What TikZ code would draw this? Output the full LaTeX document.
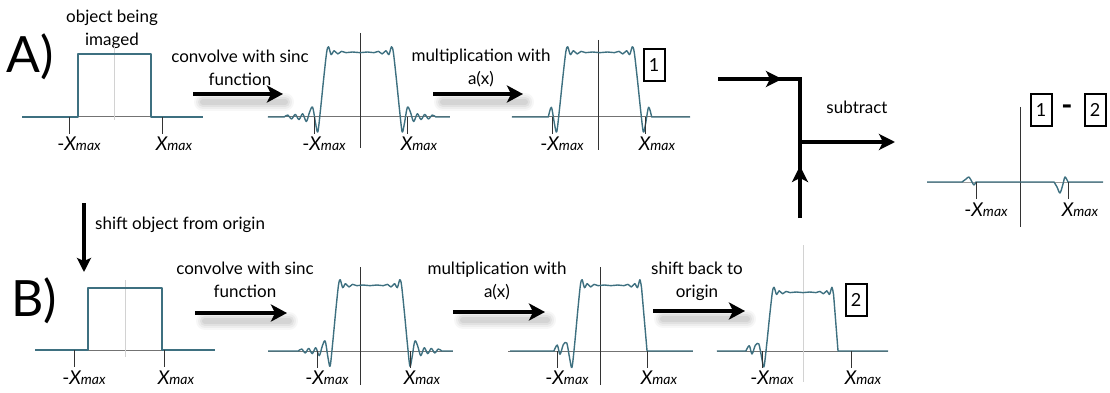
\documentclass[tikz,border=0pt]{standalone}
\usepackage{fontspec}
\setmainfont{Lato}
\usetikzlibrary{arrows.meta,calc}
\definecolor{curve}{RGB}{62,112,128}
\definecolor{axisgray}{RGB}{115,115,115}
\definecolor{faint}{RGB}{210,210,210}
\newcommand\xmaxlbl{{\fontsize{19}{19}\selectfont\itshape X}{\fontsize{14}{14}\selectfont\itshape max}}
\newcommand\mxmaxlbl{{\fontsize{19}{19}\selectfont -}\xmaxlbl}
\newcommand\arrowshade[2]{%
  \foreach \w/\o in {18/0.03,14/0.04,10/0.05,6/0.06}{%
    \draw[line width=\w, opacity=\o, line cap=round] ($(#1)+(10,8)$) -- ($(#2)+(2,8)$);}}
\tikzset{
  curveline/.style={draw=curve, line width=1.4pt, line join=round},
  axisline/.style={draw=axisgray, line width=1pt},
  originline/.style={draw=black!80, line width=0.8pt},
  faintorigin/.style={draw=faint, line width=1pt},
  tickline/.style={draw=black!80, line width=0.8pt},
  lbl/.style={font=\fontsize{17}{23}\selectfont, align=center, inner sep=0pt},
  xl/.style={inner sep=0pt},
  biglbl/.style={font=\fontsize{50}{50}\selectfont, inner sep=0pt},
  numbox/.style={draw=black, line width=2pt, minimum width=21pt, minimum height=32pt, inner sep=0pt, font=\fontsize{18}{18}\selectfont},
  bigarrow/.style={line width=4.5pt, -{Stealth[length=16pt,width=17pt,inset=4pt]}},
  subline/.style={line width=4.5pt},
  subarrow/.style={line width=4.5pt, -{Stealth[length=16pt,width=16pt,inset=4pt]}},
}
\begin{document}
\begin{tikzpicture}[x=1pt,y=-1pt]
\useasboundingbox (0,0) rectangle (1110,393);

% ---------- labels A) B)
\node[biglbl] (lA) at (30,57) {A)};
\node[biglbl] (lB) at (34,301) {B)};

% ---------- A1 : object
\node[lbl] (t0) at (112,29) {object being\\imaged};
\draw[axisline] (22,117) -- (203,117);
\draw[faintorigin] (114,47) -- (114,120);
\draw[curveline] (22,117) -- (78,117) -- (78,54) -- (151,54) -- (151,117) -- (203,117);
\draw[tickline] (69,117) -- (69,134);
\draw[tickline] (162,117) -- (162,134);
\node[xl] (a1l) at (79,144) {\mxmaxlbl};
\node[xl] (a1r) at (174,144) {\xmaxlbl};

% ---------- A arrow 1
\node[lbl] (ta1) at (240,68) {convolve with sinc\\function};
\coordinate (aa1s) at (193,94); \coordinate (aa1e) at (283,94);
\arrowshade{aa1s}{aa1e}
\draw[bigarrow] (aa1s) -- (aa1e);

% ---------- A2 : convolved
\draw[axisline] (268,117) -- (450,117);
\draw[originline] (360,33) -- (360,148);
\begin{scope}[shift={(360,117)},xscale=37,yscale=-65]
\draw[curveline] (-2.49,0) -- plot[smooth,tension=0.5] coordinates {
(-2.05,0) (-1.95,0.03) (-1.85,-0.03) (-1.75,0.04) (-1.65,-0.04) (-1.55,0.05) (-1.45,-0.07) (-1.36,0.08) (-1.28,0.15) (-1.2,-0.1) (-1.14,-0.23) (-1.07,0.1) (-0.98,0.6) (-0.9,1.0) (-0.85,1.08) (-0.78,0.96) (-0.7,1.02) (-0.6,0.97) (-0.5,1.01) (-0.38,0.99) (-0.2,1.0) (0,0.99)
(0.2,1.0) (0.38,0.99) (0.5,1.01) (0.6,0.97) (0.7,1.02) (0.78,0.96) (0.85,1.08) (0.9,1.0) (0.98,0.6) (1.07,0.1) (1.14,-0.23) (1.2,-0.1) (1.28,0.15) (1.36,0.08) (1.45,-0.07) (1.55,0.05) (1.65,-0.04) (1.75,0.04) (1.85,-0.03) (1.95,0.03) (2.05,0)} -- (2.43,0);
\end{scope}
\draw[tickline] (314,117) -- (314,134);
\draw[tickline] (407,117) -- (407,134);
\node[xl] (a2l) at (324,144) {\mxmaxlbl};
\node[xl] (a2r) at (419,144) {\xmaxlbl};

% ---------- A arrow 2
\node[lbl] (ta2) at (481,68) {multiplication with\\a(x)};
\coordinate (aa2s) at (433,94); \coordinate (aa2e) at (523,94);
\arrowshade{aa2s}{aa2e}
\draw[bigarrow] (aa2s) -- (aa2e);

% ---------- A3 : multiplied
\draw[axisline] (512,117) -- (690,117);
\draw[originline] (598,40) -- (598,150);
\begin{scope}[shift={(600,117)},xscale=38,yscale=-65]
\draw[curveline] (-2.32,0) -- plot[smooth,tension=0.5] coordinates {
(-1.36,0) (-1.28,0.15) (-1.2,-0.1) (-1.14,-0.23) (-1.07,0.1) (-0.98,0.6) (-0.9,1.0) (-0.85,1.08) (-0.78,0.96) (-0.7,1.02) (-0.6,0.97) (-0.5,1.01) (-0.38,0.99) (-0.2,1.0) (0,0.99)
(0.2,1.0) (0.38,0.99) (0.5,1.01) (0.6,0.97) (0.7,1.02) (0.78,0.96) (0.85,1.08) (0.9,1.0) (0.98,0.6) (1.07,0.1) (1.14,-0.23) (1.2,-0.1) (1.28,0.15) (1.36,0)} -- (2.37,0);
\end{scope}
\draw[tickline] (552,117) -- (552,134);
\draw[tickline] (645,117) -- (645,134);
\node[xl] (a3l) at (562,144) {\mxmaxlbl};
\node[xl] (a3r) at (657,144) {\xmaxlbl};
\node[numbox] (n1a) at (654,65) {1};

% ---------- subtract
\coordinate (s1) at (718,79);
\coordinate (s2) at (800,79);
\coordinate (s3) at (800,218);
\coordinate (sm) at (782,79);
\coordinate (su) at (800,166);
\coordinate (so1) at (800,142);
\coordinate (so2) at (895,142);
\draw[subline, line join=miter] (s1) -- (s2) -- (s3);
\draw[subarrow] (s1) -- (sm);
\draw[subarrow] (s3) -- (su);
\draw[subarrow] (so1) -- (so2);
\node[lbl] (tsub) at (857,107) {subtract};

% ---------- final difference
\draw[axisline, draw=axisgray!70] (927,182) -- (1103,182);
\draw[originline] (1020,107) -- (1020,227);
\draw[curveline] (927,182) -- (961,182) -- plot[smooth,tension=0.5] coordinates {(962,182) (966,179) (969,177) (972,182) (974,185) (976,182)} -- (1053,182) -- plot[smooth,tension=0.5] coordinates {(1054,182) (1057,187) (1060,193) (1063,184) (1065,177) (1068,182)} -- (1103,182);
\draw[tickline] (976,182) -- (976,199);
\draw[tickline] (1068,182) -- (1068,199);
\node[xl] (fl) at (986,210) {\mxmaxlbl};
\node[xl] (fr) at (1080,210) {\xmaxlbl};
\node[numbox] (n1f) at (1041,110) {1};
\node[inner sep=0pt, font=\fontsize{30}{30}\selectfont\bfseries] (dash) at (1067,110) {-};
\node[numbox] (n2f) at (1095,110) {2};

% ---------- shift arrow
\coordinate (sh1) at (84,203); \coordinate (sh2) at (84,272);
\draw[line width=4pt, -{Stealth[length=14pt,width=14pt,inset=3pt]}] (sh1) -- (sh2);
\node[lbl, anchor=west] (tsh) at (95,225) {shift object from origin};

% ---------- B1 : shifted object
\draw[axisline] (35,350) -- (215,350);
\draw[faintorigin] (125,280) -- (125,357);
\draw[curveline] (35,350) -- (88,350) -- (88,288) -- (162,288) -- (162,350) -- (215,350);
\draw[tickline] (74,350) -- (74,367);
\draw[tickline] (164,350) -- (164,367);
\node[xl] (b1l) at (84,378) {\mxmaxlbl};
\node[xl] (b1r) at (176,378) {\xmaxlbl};

% ---------- B arrow 1
\node[lbl] (tb1) at (245,280) {convolve with sinc\\function};
\coordinate (ba1s) at (195,313); \coordinate (ba1e) at (287,313);
\arrowshade{ba1s}{ba1e}
\draw[bigarrow] (ba1s) -- (ba1e);

% ---------- B2
\draw[axisline] (268,351) -- (453,351);
\draw[originline] (360,267) -- (360,385);
\begin{scope}[shift={(370,351)},xscale=35,yscale=-66]
\draw[curveline] (-2.91,0) -- plot[smooth,tension=0.5] coordinates {
(-2.05,0) (-1.95,0.03) (-1.85,-0.03) (-1.75,0.04) (-1.65,-0.04) (-1.55,0.05) (-1.45,-0.07) (-1.36,0.08) (-1.28,0.15) (-1.2,-0.1) (-1.14,-0.23) (-1.07,0.1) (-0.98,0.6) (-0.9,1.0) (-0.85,1.08) (-0.78,0.96) (-0.7,1.02) (-0.6,0.97) (-0.5,1.01) (-0.38,0.99) (-0.2,1.0) (0,0.99)
(0.2,1.0) (0.38,0.99) (0.5,1.01) (0.6,0.97) (0.7,1.02) (0.78,0.96) (0.85,1.08) (0.9,1.0) (0.98,0.6) (1.07,0.1) (1.14,-0.23) (1.2,-0.1) (1.28,0.15) (1.36,0.08) (1.45,-0.07) (1.55,0.05) (1.65,-0.04) (1.75,0.04) (1.85,-0.03) (1.95,0.03) (2.05,0)} -- (2.37,0);
\end{scope}
\draw[tickline] (317,351) -- (317,368);
\draw[tickline] (410,351) -- (410,368);
\node[xl] (b2l) at (327,378) {\mxmaxlbl};
\node[xl] (b2r) at (422,378) {\xmaxlbl};

% ---------- B arrow 2
\node[lbl] (tb2) at (497,281) {multiplication with\\a(x)};
\coordinate (ba2s) at (453,312); \coordinate (ba2e) at (545,312);
\arrowshade{ba2s}{ba2e}
\draw[bigarrow] (ba2s) -- (ba2e);

% ---------- B3
\draw[axisline] (508,351) -- (693,351);
\draw[originline] (600,267) -- (600,385);
\begin{scope}[shift={(611,351)},xscale=34,yscale=-66]
\draw[curveline] (-2.97,0) -- plot[smooth,tension=0.5] coordinates {
(-1.68,0) (-1.58,0.09) (-1.5,-0.05) (-1.4,0.1) (-1.3,0.12) (-1.22,-0.1) (-1.15,-0.25) (-1.07,0.1) (-0.98,0.6) (-0.9,1.0) (-0.85,1.08) (-0.78,0.96) (-0.7,1.02) (-0.6,0.97) (-0.5,1.01) (-0.38,0.99) (-0.2,1.0) (0,0.99)
(0.2,1.0) (0.38,0.99) (0.5,1.01) (0.6,0.97) (0.7,1.02) (0.78,0.96) (0.85,1.08) (0.9,0.95)} -- (1.06,0) -- (2.41,0);
\end{scope}
\draw[tickline] (557,351) -- (557,368);
\draw[tickline] (647,351) -- (647,368);
\node[xl] (b3l) at (567,378) {\mxmaxlbl};
\node[xl] (b3r) at (659,378) {\xmaxlbl};

% ---------- B arrow 3
\node[lbl] (tb3) at (697,281) {shift back to\\origin};
\coordinate (ba3s) at (653,311); \coordinate (ba3e) at (745,311);
\arrowshade{ba3s}{ba3e}
\draw[bigarrow] (ba3s) -- (ba3e);

% ---------- B4
\draw[axisline] (717,351) -- (888,351);
\draw[faintorigin] (803,245) -- (803,382);
\begin{scope}[shift={(803,351)},xscale=34,yscale=-59]
\draw[curveline] (-2.53,0) -- plot[smooth,tension=0.5] coordinates {
(-1.68,0) (-1.58,0.09) (-1.5,-0.05) (-1.4,0.1) (-1.3,0.12) (-1.22,-0.1) (-1.15,-0.27) (-1.07,0.1) (-0.98,0.6) (-0.9,1.0) (-0.85,1.08) (-0.78,0.96) (-0.7,1.02) (-0.6,0.97) (-0.5,1.01) (-0.38,0.99) (-0.2,1.0) (0,0.99)
(0.2,1.0) (0.38,0.99) (0.5,1.01) (0.6,0.97) (0.7,1.02) (0.78,0.96) (0.85,1.08) (0.9,0.95)} -- (1.03,0) -- (2.5,0);
\end{scope}
\draw[tickline] (762,351) -- (762,368);
\draw[tickline] (851,351) -- (851,368);
\node[xl] (b4l) at (772,378) {\mxmaxlbl};
\node[xl] (b4r) at (863,378) {\xmaxlbl};
\node[numbox] (n2b) at (856,300) {2};
\end{tikzpicture}
\end{document}
